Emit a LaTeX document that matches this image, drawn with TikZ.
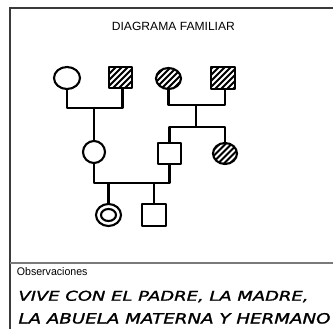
\documentclass[tikz,border=0pt]{standalone}
\usepackage{fontspec}
\usepackage{graphicx}
\usetikzlibrary{shapes.geometric}
\newfontfamily\arialf{Liberation Sans}
\newfontfamily\handf[FakeBold=1.2]{DejaVu Sans}
\definecolor{framegray}{HTML}{3A3A3A}
\definecolor{divgray}{HTML}{7A7A7A}
\begin{document}
\begin{tikzpicture}[x=1pt,y=-1pt,
  lw/.style={line width=2.1pt, line join=round},
  fem/.style={ellipse, draw, lw, inner sep=0pt},
  mal/.style={rectangle, draw, lw, inner sep=0pt},
  hatch/.style={fill=black, path picture={
    \foreach \i in {-36,-30,...,36}
      \draw[white, line width=1.9pt] ([shift={(\i-20,20)}]path picture bounding box.center) -- ++(40,-40);}},
  txt/.style={inner sep=0pt, anchor=base west}
]
\useasboundingbox (0,0) rectangle (333,329);
\fill[white] (0,0) rectangle (333,329);
% frame
\draw[framegray, line width=2.2pt] (10,329) -- (10,8) -- (333,8);
\draw[divgray, line width=1.5pt] (10,263) -- (333,263);
% title
\node[txt] (title) at (111.7,30.3) {\resizebox{123pt}{8.3pt}{\arialf DIAGRAMA FAMILIAR}};
% generation I
\node[fem, minimum width=26pt, minimum height=22pt] (c1) at (67,78) {};
\node[mal, hatch, minimum width=23pt, minimum height=21pt] (s1) at (120.5,77.5) {};
\node[fem, hatch, minimum width=25pt, minimum height=21pt] (c2) at (168.5,78.5) {};
\node[mal, hatch, minimum width=24pt, minimum height=22pt] (s2) at (223,78) {};
% generation II
\node[fem, minimum width=22pt, minimum height=22pt] (c3) at (94,152) {};
\node[mal, minimum width=23pt, minimum height=21pt] (s3) at (169.5,153.5) {};
\node[fem, hatch, minimum width=24pt, minimum height=21pt] (c4) at (225,153.5) {};
% generation III
\node[fem, minimum width=25pt, minimum height=22pt] (c5) at (108.5,215) {};
\node[fem, minimum width=15pt, minimum height=12pt] (c5in) at (108.5,215) {};
\node[mal, minimum width=24pt, minimum height=22pt] (s4) at (154,215) {};
% junctions
\coordinate (m1) at (93,108);
\coordinate (m2) at (196,105);
\coordinate (sib) at (196,127);
\coordinate (m3) at (94,183);
% connectors
\draw[lw] (c1.south) -- (c1.south |- m1) -- ([xshift=2pt]s1.south |- m1) -- ([xshift=2pt]s1.south);
\draw[lw] (m1) -- (c3.north |- m1) -- (c3.north);
\draw[lw] (c2.south) -- (c2.south |- m2) -- ([xshift=2pt]s2.south |- m2) -- ([xshift=2pt]s2.south);
\draw[lw] (m2) -- (sib);
\draw[lw] (s3.north) -- (s3.north |- sib) -- (c4.north |- sib) -- (c4.north);
\draw[lw] (c3.south) -- (c3.south |- m3) -- (s3.south |- m3) -- (s3.south);
\draw[lw] (c5.north) -- (c5.north |- m3);
\draw[lw] (s4.north) -- (s4.north |- m3);
% observations
\node[txt] (obs) at (16.7,275.3) {\resizebox{70.6pt}{8pt}{\arialf Observaciones}};
\node[txt] (l1) at (18.3,300.7) {\resizebox{290pt}{10pt}{\handf\itshape VIVE CON EL PADRE, LA MADRE,}};
\node[txt] (l2) at (18.3,323.5) {\resizebox{312pt}{10.5pt}{\handf\itshape LA ABUELA MATERNA Y HERMANO}};
\end{tikzpicture}
\end{document}
